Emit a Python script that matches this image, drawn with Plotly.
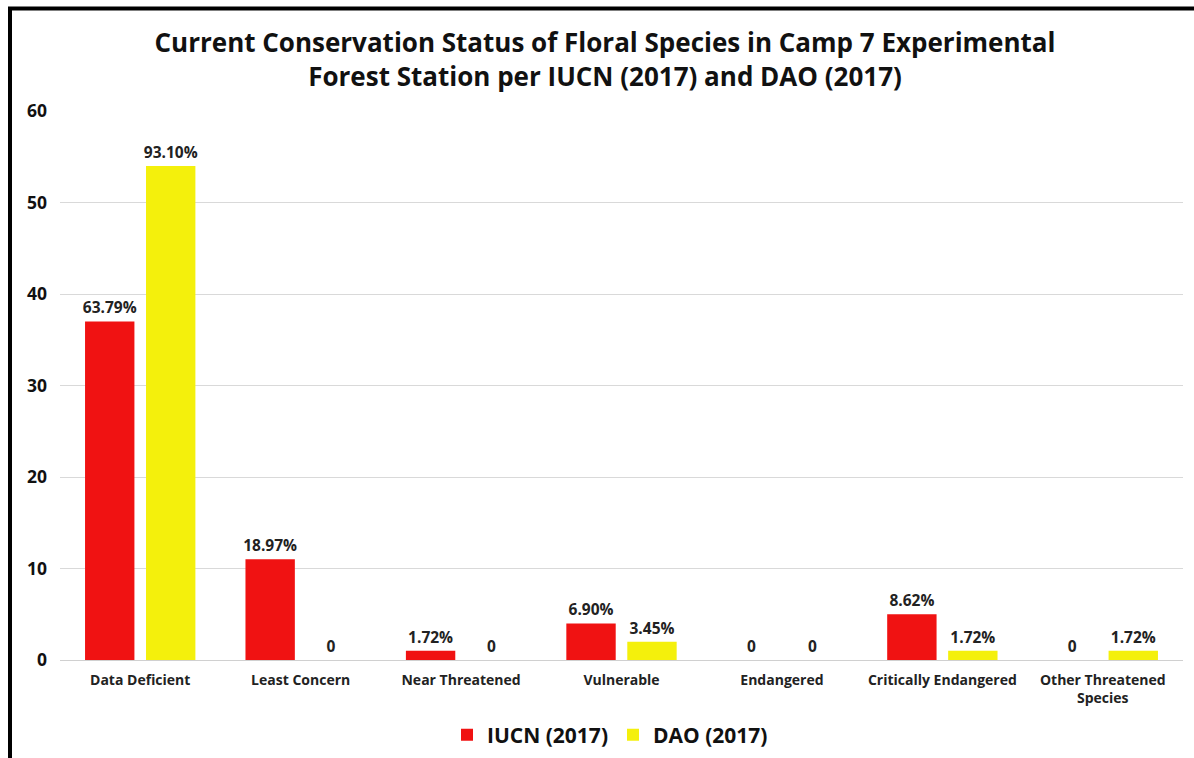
import plotly.graph_objects as go

categories = ["Data Deficient", "Least Concern", "Near Threatened", "Vulnerable",
              "Endangered", "Critically Endangered", "Other Threatened<br>Species"]
iucn_values = [37, 11, 1, 4, 0, 5, 0]
dao_values = [54, 0, 0, 2, 0, 1, 1]
iucn_labels = ["63.79%", "18.97%", "1.72%", "6.90%", "0", "8.62%", "0"]
dao_labels = ["93.10%", "0", "0", "3.45%", "0", "1.72%", "1.72%"]

FONT = "Open Sans"
W, H = 1194, 758
L, R, T, B = 60, 11, 111, 98
pw, ph = W - L - R, H - T - B

fig = go.Figure()
fig.add_trace(go.Bar(
    name="IUCN (2017)", x=categories, y=iucn_values, text=iucn_labels,
    textposition="outside", cliponaxis=False, constraintext="none",
    marker=dict(color="#f01212", line=dict(width=0)),
    textfont=dict(family=FONT, size=15.5, color="#222222", weight="bold"),
))
fig.add_trace(go.Bar(
    name="DAO (2017)", x=categories, y=dao_values, text=dao_labels,
    textposition="outside", cliponaxis=False, constraintext="none",
    marker=dict(color="#f4f00c", line=dict(width=0)),
    textfont=dict(family=FONT, size=15.5, color="#222222", weight="bold"),
))

def px_x(x):
    return (x - L) / pw

def px_y(y):
    return (H - B - y) / ph

fig.add_shape(type="path", xref="paper", yref="paper",
              path=f"M {px_x(10)} {px_y(770)} L {px_x(10)} {px_y(8.5)} L {px_x(1210)} {px_y(8.5)}",
              line=dict(color="black", width=4))

fig.update_layout(
    width=W, height=H,
    margin=dict(l=L, r=R, t=T, b=B, autoexpand=False),
    paper_bgcolor="white", plot_bgcolor="white",
    barmode="group", bargap=0.24, bargroupgap=0.19,
    title=dict(
        text="Current Conservation Status of Floral Species in Camp 7 Experimental<br>Forest Station per IUCN (2017) and DAO (2017)",
        x=605 / W, xanchor="center", xref="container",
        y=1 - 52 / H, yanchor="middle", yref="container",
        font=dict(family=FONT, size=26, color="#111111", weight="bold"),
    ),
    font=dict(family=FONT, color="#222222"),
    showlegend=True,
    legend=dict(orientation="h", x=px_x(610), xanchor="center", y=px_y(735), yanchor="middle",
                font=dict(family=FONT, size=21, color="#111111", weight="bold"),
                itemwidth=30, traceorder="normal"),
    yaxis=dict(range=[0, 60], dtick=10, showgrid=True, gridcolor="#d9d9d9", gridwidth=1,
               zeroline=True, zerolinecolor="#d0d0d0", zerolinewidth=1,
               tickfont=dict(family=FONT, size=17.5, color="#111111", weight="bold"),
               ticklabelstandoff=12, showline=False),
    xaxis=dict(tickfont=dict(family=FONT, size=14, color="#222222", weight="bold"),
               showline=False, ticklabelstandoff=10),
)

fig.write_html("out.html", config={"displayModeBar": False},
               post_script="document.body.style.margin='0';document.body.style.overflow='hidden';")
